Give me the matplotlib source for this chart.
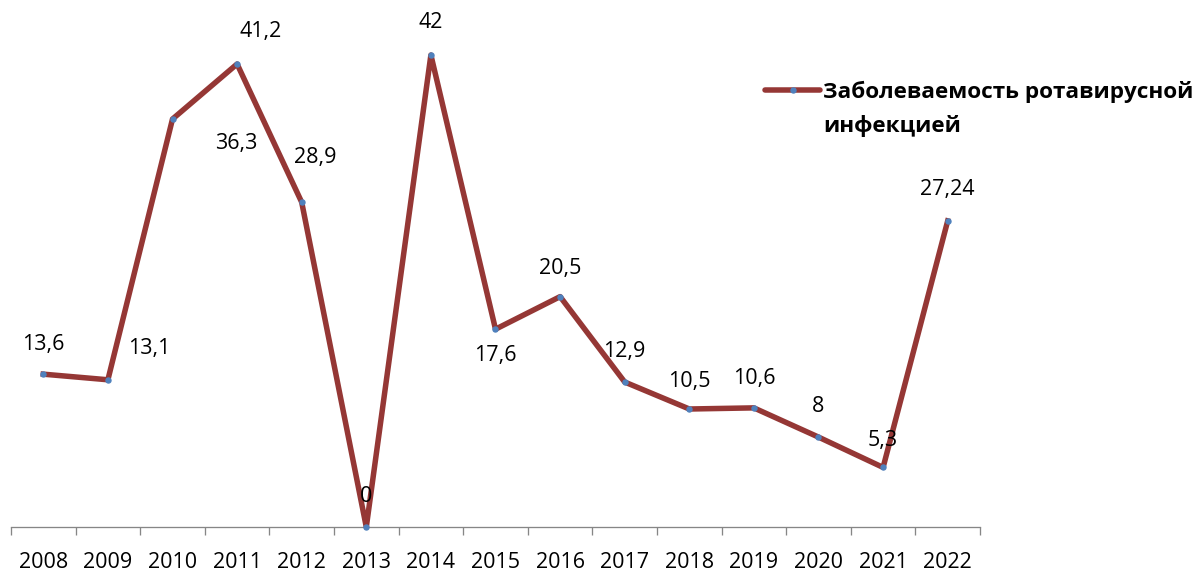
import matplotlib
matplotlib.use("Agg")
import matplotlib.pyplot as plt
from matplotlib.lines import Line2D

years = ["2008", "2009", "2010", "2011", "2012", "2013", "2014", "2015",
         "2016", "2017", "2018", "2019", "2020", "2021", "2022"]
values = [13.6, 13.1, 36.3, 41.2, 28.9, 0, 42, 17.6, 20.5, 12.9, 10.5, 10.6, 8, 5.3, 27.24]
labels = ["13,6", "13,1", "36,3", "41,2", "28,9", "0", "42", "17,6", "20,5",
          "12,9", "10,5", "10,6", "8", "5,3", "27,24"]
# label offsets in pixels (dx, dy) relative to the point, as placed in the reference
label_offsets = [(0, 30), (41, 31), (64, -24), (24, 32), (14, 45), (0, 30), (0, 33),
                 (0, -26), (0, 28), (0, 31), (0, 27), (0, 29), (0, 31), (0, 27), (0, 31)]
series_lines = ["Заболеваемость ротавирусной", "инфекцией"]

W, H = 1195, 572
dpi = 100
P = 72.0 / dpi  # pixel -> points

plt.rcParams['font.family'] = ['Open Sans', 'DejaVu Sans']

fig = plt.figure(figsize=(W / dpi, H / dpi), dpi=dpi)
left, right = 11, 980
bottom_px = 527
ymax = 45
top_px = bottom_px - ymax * (472 / 42)
ax = fig.add_axes([left / W, 1 - bottom_px / H, (right - left) / W, (bottom_px - top_px) / H])

line_color = "#953735"
marker_color = "#4F81BD"
x = list(range(len(years)))
ax.plot(x, values, color=line_color, lw=5.5 * P, marker="o", ms=5 * P,
        mfc=marker_color, mec=marker_color, solid_joinstyle="round",
        clip_on=False, zorder=3)

fs = 21.5 * P
for xi, v, lab, (dx, dy) in zip(x, values, labels, label_offsets):
    ax.annotate(lab, (xi, v), xytext=(dx * P, dy * P), textcoords="offset points",
                ha="center", va="center", fontsize=fs, color="black")

ax.set_xlim(-0.5, len(years) - 0.5)
ax.set_ylim(0, ymax)
for s in ["top", "right", "left"]:
    ax.spines[s].set_visible(False)
ax.spines["bottom"].set_color("#868686")
ax.spines["bottom"].set_linewidth(1.3 * P)
ax.set_yticks([])
ax.set_xticks(x)
ax.set_xticklabels(years, fontsize=fs)
ax.tick_params(axis="x", which="major", length=0, pad=25 * P)
ax.set_xticks([i - 0.5 for i in range(len(years) + 1)], minor=True)
ax.tick_params(axis="x", which="minor", length=8 * P, width=1.3 * P, color="#868686", direction="out")

# legend (drawn in figure pixel coordinates)
fy = lambda py: 1 - py / H
fig.add_artist(Line2D([765 / W, 820 / W], [fy(90), fy(90)], color=line_color, lw=5.5 * P,
                      solid_capstyle="round"))
fig.add_artist(Line2D([792.5 / W], [fy(90)], marker="o", ms=5 * P, mfc=marker_color,
                      mec=marker_color, lw=0))
fig.text(823 / W, fy(98), series_lines[0], ha="left", va="baseline",
         fontsize=22.5 * P, fontweight="bold")
fig.text(823 / W, fy(132), series_lines[1], ha="left", va="baseline",
         fontsize=22.5 * P, fontweight="bold")

fig.savefig("out.png", dpi=dpi)
